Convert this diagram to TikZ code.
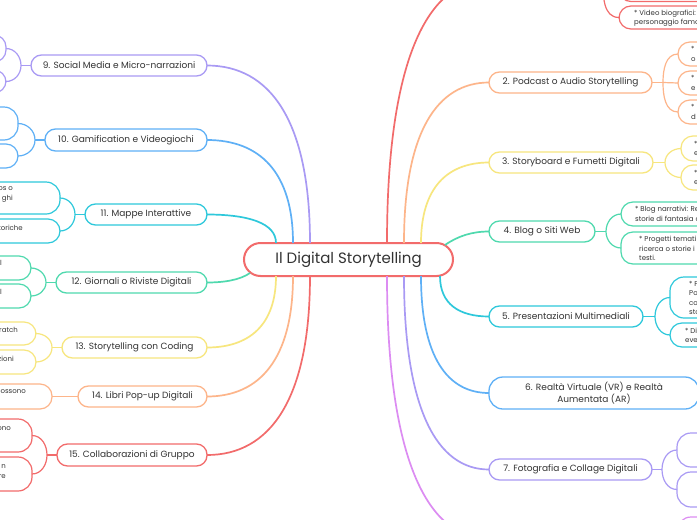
\documentclass[tikz,border=0pt]{standalone}
\usepackage{fontspec}
\setmainfont{Poppins}
\definecolor{cred}{HTML}{F26B6B}
\definecolor{corange}{HTML}{FDB58A}
\definecolor{cyellow}{HTML}{F7E67E}
\definecolor{cgreen}{HTML}{4FD9AE}
\definecolor{ccyan}{HTML}{2EC8DB}
\definecolor{cblue}{HTML}{5FB0F6}
\definecolor{cpurple}{HTML}{A99AF4}
\definecolor{cmagenta}{HTML}{DC8CF2}
\definecolor{ctext}{HTML}{333333}
\tikzset{
 central/.style={draw=cred, line width=2pt, fill=white, rounded corners=16.5pt, minimum width=209pt, minimum height=33pt, inner sep=0pt, outer sep=0pt, text=ctext, font=\fontsize{15}{17}\selectfont},
 topic/.style={draw=#1, line width=1.3pt, fill=white, rounded corners=10.5pt, minimum height=21pt, inner sep=0pt, outer sep=0pt, text=ctext, font=\fontsize{9}{11.3}\selectfont},
 leafbox/.style={draw=#1, line width=1.2pt, fill=white, rounded corners=12pt, inner sep=0pt, outer sep=0pt},
 ltext/.style={text=ctext, font=\fontsize{7}{9.3}\selectfont, inner sep=0pt, align=left},
 rtext/.style={text=ctext, font=\fontsize{7}{9.3}\selectfont, inner sep=0pt, align=right},
 link/.style={draw=#1, line width=1.7pt},
 twig/.style={draw=#1, line width=1.2pt},
}
\begin{document}
\begin{tikzpicture}[x=1pt,y=-1pt]
\useasboundingbox (0,0) rectangle (697,520);
\clip (0,0) rectangle (697,520);
\fill[white] (0,0) rectangle (697,520);

% ---------- central ----------
\node[central] (c) at (348.5,259.5) {Il Digital Storytelling};

% ---------- right topics ----------
\coordinate (t1) at (489,-20);
\node[topic=corange, minimum width=163pt] (n2) at (570.5,82.5) {2. Podcast o Audio Storytelling};
\node[topic=cyellow, minimum width=164pt] (n3) at (571,162.5) {3. Storyboard e Fumetti Digitali};
\node[topic=cgreen, minimum width=106pt] (n4) at (542,231.5) {4. Blog o Siti Web};
\node[topic=ccyan, minimum width=154pt] (n5) at (566,316.5) {5. Presentazioni Multimediali};
\node[topic=cblue, minimum width=210pt, minimum height=32pt, rounded corners=14pt, align=center] (n6) at (594,393) {6. Realtà Virtuale (VR) e Realtà\\Aumentata (AR)};
\node[topic=cpurple, minimum width=163pt] (n7) at (570.5,469.5) {7. Fotografia e Collage Digitali};
\coordinate (t8) at (489,539);

% ---------- left topics ----------
\node[topic=cpurple, minimum width=176pt] (n9) at (119,65.5) {9. Social Media e Micro-narrazioni};
\node[topic=cblue, minimum width=162pt, minimum height=22pt] (n10) at (126,140) {10. Gamification e Videogiochi};
\node[topic=ccyan, minimum width=122pt] (n11) at (146,214.5) {11. Mappe Interattive};
\node[topic=cgreen, minimum width=151pt] (n12) at (131.5,282.5) {12. Giornali o Riviste Digitali};
\node[topic=cyellow, minimum width=145pt] (n13) at (134.5,347.5) {13. Storytelling con Coding};
\node[topic=corange, minimum width=129pt] (n14) at (142.5,396.5) {14. Libri Pop-up Digitali};
\node[topic=cred, minimum width=150pt, minimum height=22pt] (n15) at (132,455) {15. Collaborazioni di Gruppo};

% ---------- main connectors ----------
\draw[link=cred] ([xshift=38.5pt]c.north) .. controls (387,61.5) and (427,-20) .. (t1);
\draw[link=corange] ([xshift=55.5pt]c.north) .. controls (404,132.3) and (437,82.5) .. (n2.west);
\draw[link=cyellow] ([xshift=72.5pt]c.north) .. controls (421,187.5) and (447.5,162.5) .. (n3.west);
\draw[link=cgreen] ([xshift=-8pt,yshift=-2pt]c.north east) .. controls (458,236) and (472,231.5) .. (n4.west);
\draw[link=ccyan] ([xshift=-13pt]c.south east) .. controls (440,304) and (459,316.5) .. (n5.west);
\draw[link=cblue] ([xshift=72.5pt]c.south) .. controls (421,357) and (447.5,393) .. (n6.west);
\draw[link=cpurple] ([xshift=55.5pt]c.south) .. controls (404,409.5) and (437,469.5) .. (n7.west);
\draw[link=cmagenta] ([xshift=38.5pt]c.south) .. controls (387,457.5) and (427,539) .. (t8);

\draw[link=cpurple] ([xshift=-38.5pt]c.north) .. controls (310,120.5) and (270,65.5) .. (n9.east);
\draw[link=cblue] ([xshift=-55.5pt]c.north) .. controls (293,172) and (259.5,140) .. (n10.east);
\draw[link=ccyan] ([xshift=-72.5pt]c.north) .. controls (276,223.3) and (249,214.5) .. (n11.east);
\draw[link=cgreen] ([xshift=6pt,yshift=3pt]c.south west) .. controls (240,280) and (224,282.5) .. (n12.east);
\draw[link=cyellow] ([xshift=-72.5pt]c.south) .. controls (276,325.3) and (249,347.5) .. (n13.east);
\draw[link=corange] ([xshift=-55.5pt]c.south) .. controls (293,359.1) and (259.5,396.5) .. (n14.east);
\draw[link=cred] ([xshift=-38.5pt]c.south) .. controls (310,399.5) and (270,455) .. (n15.east);

% ---------- right leaves ----------
% 1
\coordinate (j1) at (603,-20);
\node[leafbox=cred, minimum width=150pt, minimum height=25.5pt, anchor=west] (l1a) at (619,-11.25) {};
\node[leafbox=cred, minimum width=150pt, minimum height=23pt, anchor=west] (l1b) at (619,17.5) {};
\draw[twig=cred] (j1) to[out=90,in=180] (l1a.west);
\draw[twig=cred] (j1) to[out=-90,in=180] (l1b.west);
\node[ltext, anchor=west] at (634,18.3) {* Video biografici:\\personaggio famoso};
% 2
\coordinate (j2) at (663,82.5);
\node[leafbox=corange, minimum width=150pt, minimum height=24pt, anchor=west] (l2a) at (678,54) {};
\node[leafbox=corange, minimum width=150pt, minimum height=24pt, anchor=west] (l2b) at (678,83) {};
\node[leafbox=corange, minimum width=150pt, minimum height=24pt, anchor=west] (l2c) at (678,112) {};
\draw[twig=corange] (n2.east) -- (j2);
\draw[twig=corange] (j2) to[out=90,in=180] (l2a.west);
\draw[twig=corange] (j2) -- (l2b.west);
\draw[twig=corange] (j2) to[out=-90,in=180] (l2c.west);
\node[ltext, anchor=west] at (691,54) {*\\o};
\node[ltext, anchor=west] at (691,83) {*\\e};
\node[ltext, anchor=west] at (691,112) {*\\d};
% 3
\coordinate (j3) at (665,162.5);
\node[leafbox=cyellow, minimum width=150pt, minimum height=25pt, anchor=west] (l3a) at (681,148.5) {};
\node[leafbox=cyellow, minimum width=150pt, minimum height=25pt, anchor=west] (l3b) at (681,177.5) {};
\draw[twig=cyellow] (n3.east) -- (j3);
\draw[twig=cyellow] (j3) to[out=90,in=180] (l3a.west);
\draw[twig=cyellow] (j3) to[out=-90,in=180] (l3b.west);
\node[ltext, anchor=west] at (694,148.5) {*\\e};
\node[ltext, anchor=west] at (694,177.5) {*\\e};
% 4
\coordinate (j4) at (606,231.5);
\node[leafbox=cgreen, minimum width=150pt, minimum height=24pt, anchor=west] (l4a) at (621,214) {};
\node[leafbox=cgreen, minimum width=150pt, minimum height=32pt, anchor=west] (l4b) at (621,248) {};
\draw[twig=cgreen] (n4.east) -- (j4);
\draw[twig=cgreen] (j4) to[out=90,in=180] (l4a.west);
\draw[twig=cgreen] (j4) to[out=-90,in=180] (l4b.west);
\node[ltext, anchor=west] at (635,214) {* Blog narrativi: Re\\storie di fantasia o};
\node[ltext, anchor=west] at (639,248.5) {* Progetti temati\\ricerca o storie i\\testi.};
% 5
\coordinate (j5) at (655,316.5);
\node[leafbox=ccyan, minimum width=150pt, minimum height=41pt, anchor=west, rounded corners=14pt] (l5a) at (670,297.5) {};
\node[leafbox=ccyan, minimum width=150pt, minimum height=24pt, anchor=west] (l5b) at (670,335) {};
\draw[twig=ccyan] (n5.east) -- (j5);
\draw[twig=ccyan] (j5) to[out=90,in=180] (l5a.west);
\draw[twig=ccyan] (j5) to[out=-90,in=180] (l5b.west);
\node[ltext, anchor=west] at (689,298) {* P\\Po\\co\\sto};
\node[ltext, anchor=west] at (685,335.5) {* Di\\eve};
% 7
\coordinate (j7) at (662,469.5);
\node[leafbox=cpurple, minimum width=150pt, minimum height=34pt, anchor=west, rounded corners=14pt] (l7a) at (677,450) {};
\node[leafbox=cpurple, minimum width=150pt, minimum height=35pt, anchor=west, rounded corners=14pt] (l7b) at (677,489.5) {};
\draw[twig=cpurple] (n7.east) -- (j7);
\draw[twig=cpurple] (j7) to[out=90,in=180] (l7a.west);
\draw[twig=cpurple] (j7) to[out=-90,in=180] (l7b.west);
% 8
\node[leafbox=cmagenta, minimum width=150pt, minimum height=34pt, anchor=north west, rounded corners=14pt] (l8a) at (677,517) {};

% ---------- left leaves ----------
% 9
\coordinate (j9) at (21,65.5);
\node[leafbox=cpurple, minimum width=200pt, minimum height=27pt, anchor=east] (l9a) at (6,48.5) {};
\node[leafbox=cpurple, minimum width=200pt, minimum height=23pt, anchor=east] (l9b) at (6,81.5) {};
\draw[twig=cpurple] (n9.west) -- (j9);
\draw[twig=cpurple] (j9) to[out=90,in=0] (l9a.east);
\draw[twig=cpurple] (j9) to[out=-90,in=0] (l9b.east);
% 10
\coordinate (j10) at (35,140);
\node[leafbox=cblue, minimum width=200pt, minimum height=33pt, anchor=east, rounded corners=14pt] (l10a) at (18,123.5) {};
\node[leafbox=cblue, minimum width=200pt, minimum height=24pt, anchor=east] (l10b) at (18,156) {};
\draw[twig=cblue] (n10.west) -- (j10);
\draw[twig=cblue] (j10) to[out=90,in=0] (l10a.east);
\draw[twig=cblue] (j10) to[out=-90,in=0] (l10b.east);
% 11
\coordinate (j11) at (75,214.5);
\node[leafbox=ccyan, minimum width=200pt, minimum height=32pt, anchor=east, rounded corners=14pt] (l11a) at (60,198) {};
\node[leafbox=ccyan, minimum width=200pt, minimum height=24pt, anchor=east] (l11b) at (60,231) {};
\draw[twig=ccyan] (n11.west) -- (j11);
\draw[twig=ccyan] (j11) to[out=90,in=0] (l11a.east);
\draw[twig=ccyan] (j11) to[out=-90,in=0] (l11b.east);
\node[rtext, anchor=east] at (13,194.5) {os o\\ghi};
\node[rtext, anchor=east] at (23,227.5) {toriche};
% 12
\coordinate (j12) at (46,282.5);
\node[leafbox=cgreen, minimum width=200pt, minimum height=24pt, anchor=east] (l12a) at (31,268) {};
\node[leafbox=cgreen, minimum width=200pt, minimum height=24pt, anchor=east] (l12b) at (31,296) {};
\draw[twig=cgreen] (n12.west) -- (j12);
\draw[twig=cgreen] (j12) to[out=90,in=0] (l12a.east);
\draw[twig=cgreen] (j12) to[out=-90,in=0] (l12b.east);
\node[rtext, anchor=east] at (2,263) {l};
\node[rtext, anchor=east] at (2,292) {l};
% 13
\coordinate (j13) at (52,347.5);
\node[leafbox=cyellow, minimum width=200pt, minimum height=23pt, anchor=east] (l13a) at (36,333.5) {};
\node[leafbox=cyellow, minimum width=200pt, minimum height=24pt, anchor=east] (l13b) at (36,362) {};
\draw[twig=cyellow] (n13.west) -- (j13);
\draw[twig=cyellow] (j13) to[out=90,in=0] (l13a.east);
\draw[twig=cyellow] (j13) to[out=-90,in=0] (l13b.east);
\node[rtext, anchor=east] at (18,329.5) {ratch};
\node[rtext, anchor=east] at (14,358.5) {zioni};
% 14
\node[leafbox=corange, minimum width=200pt, minimum height=25pt, anchor=east] (l14) at (52,396.5) {};
\draw[twig=corange] (n14.west) -- (l14.east);
\node[rtext, anchor=east] at (26,392.5) {possono};
% 15
\coordinate (j15) at (47,455);
\node[leafbox=cred, minimum width=200pt, minimum height=33pt, anchor=east, rounded corners=14pt] (l15a) at (32,435.5) {};
\node[leafbox=cred, minimum width=200pt, minimum height=34pt, anchor=east, rounded corners=14pt] (l15b) at (32,474) {};
\draw[twig=cred] (n15.west) -- (j15);
\draw[twig=cred] (j15) to[out=90,in=0] (l15a.east);
\draw[twig=cred] (j15) to[out=-90,in=0] (l15b.east);
\node[rtext, anchor=east] at (11,428.5) {ono};
\node[rtext, anchor=east] at (6,471.5) {n\\re};
\end{tikzpicture}
\end{document}
